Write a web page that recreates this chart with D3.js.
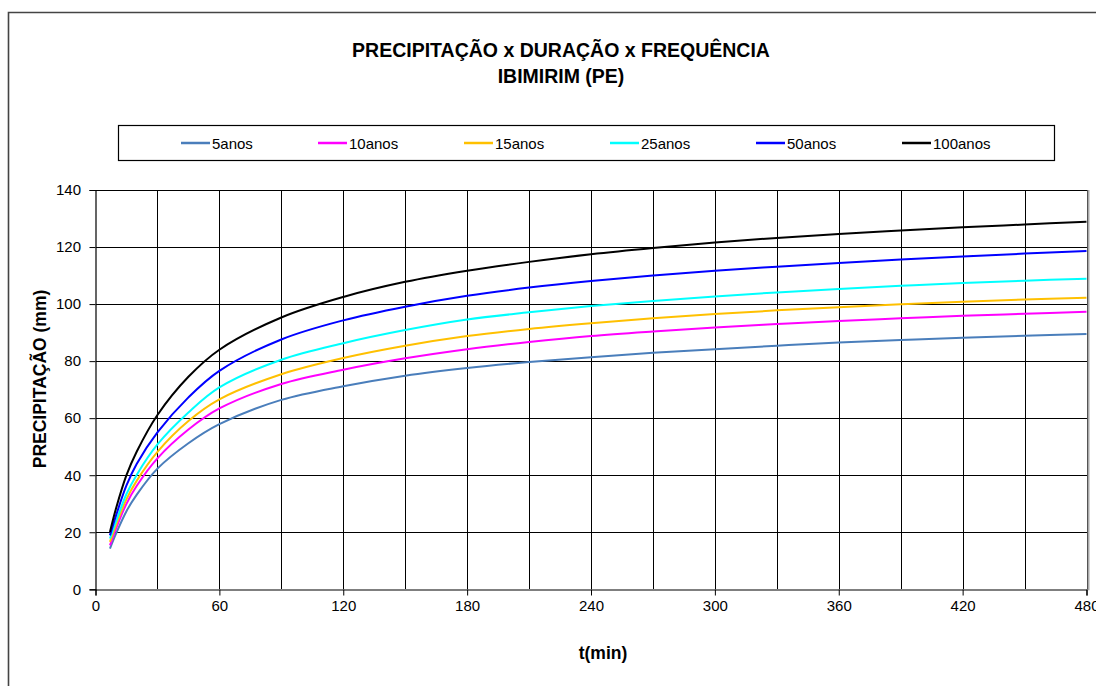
<!DOCTYPE html>
<html>
<head>
<meta charset="utf-8">
<script src="https://cdn.jsdelivr.net/npm/d3@7"></script>
<style>
  body { margin: 0; background: #fff; }
  svg { display: block; }
  text { font-family: "Liberation Sans", Arial, sans-serif; fill: #000; }
</style>
</head>
<body>
<svg id="chart" width="1096" height="686"></svg>
<script>
// Durations (min) and accumulated precipitation (mm) per return period
const durations = [7, 10, 15, 20, 30, 45, 60, 90, 120, 150, 180, 210, 240, 270, 300, 330, 360, 390, 420, 450, 480];
const p5anos   = [14.3, 19.6, 27.4, 33.2, 42.3, 51.2, 57.9, 66.4, 71.2, 74.9, 77.6, 79.7, 81.4, 82.9, 84.2, 85.4, 86.5, 87.4, 88.2, 88.9, 89.5];
const p10anos  = [15.4, 21.4, 30.0, 36.3, 45.9, 56.0, 63.4, 72.0, 77.0, 81.0, 84.2, 86.7, 88.8, 90.4, 91.8, 93.0, 94.1, 95.0, 95.9, 96.6, 97.3];
const p15anos  = [16.6, 22.6, 31.6, 38.1, 48.2, 59.0, 66.6, 75.4, 81.1, 85.4, 88.8, 91.3, 93.3, 95.0, 96.5, 97.8, 98.9, 99.9, 100.8, 101.6, 102.2];
const p25anos  = [17.8, 23.9, 33.4, 40.2, 50.8, 62.0, 70.8, 80.5, 86.3, 90.9, 94.6, 97.1, 99.3, 101.1, 102.7, 104.1, 105.3, 106.4, 107.4, 108.2, 108.9];
const p50anos  = [18.9, 26.0, 36.4, 44.0, 55.0, 67.3, 76.6, 87.6, 94.3, 99.1, 102.9, 105.8, 108.1, 110.0, 111.7, 113.1, 114.4, 115.6, 116.7, 117.7, 118.6];
const p100anos = [20.1, 28.5, 40.0, 48.3, 61.1, 74.5, 84.0, 95.3, 102.5, 107.8, 111.7, 114.8, 117.5, 119.7, 121.6, 123.2, 124.6, 125.8, 126.9, 127.9, 128.9];

const seriesNames  = ["5anos", "10anos", "15anos", "25anos", "50anos", "100anos"];
const seriesValues = [p5anos, p10anos, p15anos, p25anos, p50anos, p100anos];
const seriesColors = ["#4a7ebb", "#ff00ff", "#ffc000", "#00ffff", "#0000ff", "#000000"];

const xTicks = [0, 60, 120, 180, 240, 300, 360, 420, 480];
const xGrid  = d3.range(30, 481, 30);
const yTicks = [0, 20, 40, 60, 80, 100, 120, 140];

const titleLines = ["PRECIPITAÇÃO x DURAÇÃO x FREQUÊNCIA", "IBIMIRIM (PE)"];
const xTitle = "t(min)";
const yTitle = "PRECIPITAÇÃO (mm)";

// Layout
const plot = { left: 95.5, right: 1086.5, top: 190, bottom: 589.3 };
const legendBox = { x: 118.5, y: 125.5, w: 936, h: 35 };
const legendItemX = [181, 318, 464, 610, 756, 902];

const svg = d3.select("#chart");

const x = d3.scaleLinear().domain([0, 480]).range([plot.left, plot.right]);
const y = d3.scaleLinear().domain([0, 140]).range([plot.bottom, plot.top]);

// Outer chart frame (left and top edges)
svg.append("path")
  .attr("d", `M8.5,686 V12.5 H1096`)
  .attr("fill", "none")
  .attr("stroke", "#444")
  .attr("stroke-width", 1.6);

// Title
svg.selectAll("text.title")
  .data(titleLines)
  .join("text")
  .attr("class", "title")
  .attr("x", 561)
  .attr("y", (d, i) => 57 + i * 26)
  .attr("text-anchor", "middle")
  .attr("font-weight", "bold")
  .attr("font-size", 19.5)
  .text(d => d);

// Legend
svg.append("rect")
  .attr("x", legendBox.x).attr("y", legendBox.y)
  .attr("width", legendBox.w).attr("height", legendBox.h)
  .attr("fill", "#fff")
  .attr("stroke", "#000")
  .attr("stroke-width", 1.2);

const legend = svg.selectAll("g.legend-item")
  .data(seriesNames)
  .join("g")
  .attr("class", "legend-item")
  .attr("transform", (d, i) => `translate(${legendItemX[i]},${legendBox.y + legendBox.h / 2})`);
legend.append("line")
  .attr("x1", 0).attr("x2", 29).attr("y1", 0).attr("y2", 0)
  .attr("stroke", (d, i) => seriesColors[i])
  .attr("stroke-width", 2.5);
legend.append("text")
  .attr("x", 31).attr("y", 5.5)
  .attr("font-size", 15)
  .text(d => d);

// Gridlines
const grid = svg.append("g").attr("shape-rendering", "crispEdges");
grid.selectAll("line.v")
  .data(xGrid)
  .join("line")
  .attr("class", "v")
  .attr("x1", d => Math.round(x(d)) + 0.5).attr("x2", d => Math.round(x(d)) + 0.5)
  .attr("y1", plot.top).attr("y2", plot.bottom)
  .attr("stroke", "#000").attr("stroke-width", 1);
grid.selectAll("line.h")
  .data(yTicks.filter(d => d > 0))
  .join("line")
  .attr("class", "h")
  .attr("x1", plot.left).attr("x2", plot.right)
  .attr("y1", d => Math.round(y(d)) + 0.5).attr("y2", d => Math.round(y(d)) + 0.5)
  .attr("stroke", "#000").attr("stroke-width", 1);

// Right plot border
svg.append("line")
  .attr("x1", plot.right + 2).attr("x2", plot.right + 2)
  .attr("y1", plot.top).attr("y2", plot.bottom + 1)
  .attr("stroke", "#a8a8a8").attr("stroke-width", 2);

// Series, drawn as smoothed lines
const line = d3.line()
  .x(d => x(d[0]))
  .y(d => y(d[1]))
  .curve(d3.curveCatmullRom.alpha(0.5));

svg.append("g")
  .selectAll("path")
  .data(seriesValues)
  .join("path")
  .attr("fill", "none")
  .attr("stroke", (d, i) => seriesColors[i])
  .attr("stroke-width", 2)
  .attr("stroke-linejoin", "round")
  .attr("d", vals => line(durations.map((t, k) => [t, vals[k]])));

// Axes
const xAxis = d3.axisBottom(x).tickValues(xTicks).tickSize(6).tickPadding(5).tickFormat(d3.format("d"));
const yAxis = d3.axisLeft(y).tickValues(yTicks).tickSize(6).tickPadding(8.5).tickFormat(d3.format("d"));

const gx = svg.append("g")
  .attr("transform", `translate(0,${Math.round(plot.bottom) + 0.5})`)
  .call(xAxis);
const gy = svg.append("g")
  .attr("transform", `translate(${plot.left},0)`)
  .call(yAxis);

[gx, gy].forEach(g => {
  g.select(".domain").attr("stroke", "#000").attr("stroke-width", 1.2);
  g.selectAll(".tick line").attr("stroke", "#000").attr("stroke-width", 1);
  g.selectAll(".tick text")
    .attr("font-family", "\"Liberation Sans\", Arial, sans-serif")
    .attr("font-size", 15)
    .attr("fill", "#000");
});

// Axis titles
svg.append("text")
  .attr("x", 603).attr("y", 659)
  .attr("text-anchor", "middle")
  .attr("font-weight", "bold")
  .attr("font-size", 17.5)
  .text(xTitle);

svg.append("text")
  .attr("transform", "translate(46,379) rotate(-90)")
  .attr("text-anchor", "middle")
  .attr("font-weight", "bold")
  .attr("font-size", 17.5)
  .text(yTitle);
</script>
</body>
</html>
